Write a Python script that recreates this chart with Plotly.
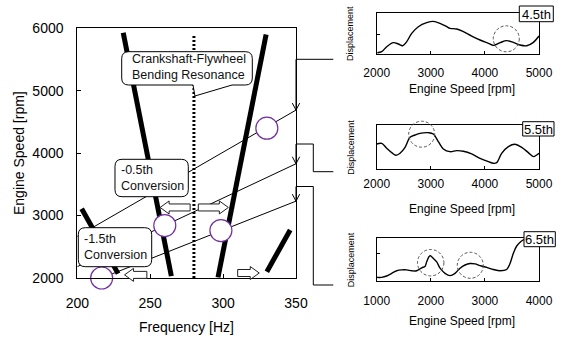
import plotly.graph_objects as go

W, H = 564, 339

# ---------------- main chart data ----------------
freq_range = [200, 350]
rpm_range = [2000, 6000]
x_ticks = [200, 250, 300, 350]
y_ticks = [2000, 3000, 4000, 5000, 6000]

# thick resonance branches (endpoints)
branch_a_hz = [231.5, 264.5]
branch_a_rpm = [5930, 2030]
branch_b_hz = [296.5, 329.5]
branch_b_rpm = [2010, 5900]
branch_c_hz = [203, 228]
branch_c_rpm = [3110, 2070]
branch_d_hz = [330, 346]
branch_d_rpm = [2100, 2770]

# stationary resonance (dotted)
resonance_hz = [280, 280]
resonance_rpm = [2000, 5900]

# engine order lines
order45_hz = [200, 350]
order45_rpm = [2667, 4690]
order55_hz = [200, 350]
order55_rpm = [2182, 3830]
order65_hz = [216.7, 350]
order65_rpm = [2000, 3231]

# circled peaks
peak_hz = [330, 260, 298.5, 216.7]
peak_rpm = [4400, 2840, 2760, 2000]

# block arrows (frequency shift)
shift_from_hz = [277.4, 283.0, 247.7, 310.0]
shift_to_hz = [256.8, 303.6, 232.4, 324.8]
shift_rpm = [3130, 3130, 2050, 2080]

# ---------------- small panels ----------------
p1_rpm = [2012, 2092, 2185, 2308, 2400, 2481, 2555, 2647, 2770, 2924, 3047, 3171, 3294,
          3355, 3479, 3602, 3756, 3910, 4064, 4157, 4280, 4403, 4526, 4649, 4773, 4896, 5000]
p1_disp = [0.03, 0.056, 0.177, 0.274, 0.242, 0.20, 0.298, 0.50, 0.661, 0.758, 0.79, 0.742,
           0.661, 0.621, 0.605, 0.54, 0.435, 0.339, 0.258, 0.21, 0.274, 0.323, 0.282, 0.218,
           0.20, 0.282, 0.435]

p2_rpm = [2000, 2092, 2185, 2277, 2357, 2431, 2524, 2616, 2708, 2800, 2954, 3047, 3140,
          3232, 3355, 3479, 3602, 3756, 3910, 4064, 4157, 4218, 4310, 4434, 4557, 4680,
          4803, 4896, 4957, 5000]
p2_disp = [0.571, 0.586, 0.474, 0.376, 0.316, 0.361, 0.496, 0.722, 0.774, 0.812, 0.827,
           0.797, 0.624, 0.459, 0.398, 0.421, 0.406, 0.346, 0.248, 0.173, 0.135, 0.15,
           0.361, 0.511, 0.564, 0.496, 0.376, 0.286, 0.323, 0.361]

p3_rpm = [1000, 1092, 1185, 1277, 1370, 1462, 1555, 1647, 1739, 1832, 1893, 1924, 1986,
          2047, 2109, 2171, 2263, 2355, 2448, 2540, 2633, 2725, 2818, 2910, 3033, 3156,
          3280, 3403, 3464, 3526, 3588, 3662, 3742, 4000]
p3_disp = [0.086, 0.086, 0.117, 0.18, 0.24, 0.26, 0.26, 0.24, 0.24, 0.31, 0.34, 0.45, 0.59,
           0.53, 0.45, 0.30, 0.18, 0.125, 0.18, 0.30, 0.375, 0.41, 0.40, 0.36, 0.32, 0.27,
           0.24, 0.27, 0.41, 0.65, 0.82, 0.92, 0.98, 1.0]

panel_labels = ["4.5th", "5.5th", "6.5th"]
p1_ticks = [2000, 3000, 4000, 5000]
p2_ticks = [2000, 3000, 4000, 5000]
p3_ticks = [1000, 2000, 3000, 4000]

FONT = "Liberation Sans, Arial, sans-serif"
BLACK = "#000000"
PURPLE = "#7030A0"

# ---------------- geometry helpers (pixels -> paper) ----------------
MX0, MX1, MY0, MY1 = 77.3, 296.0, 28.3, 278.0


def mx(hz):
    return MX0 + (hz - freq_range[0]) * (MX1 - MX0) / (freq_range[1] - freq_range[0])


def my(rpm):
    return MY1 - (rpm - rpm_range[0]) * (MY1 - MY0) / (rpm_range[1] - rpm_range[0])


def P(x, y):
    return x / W, 1 - y / H


def pt(x, y):
    a, b = P(x, y)
    return f"{a:.5f},{b:.5f}"


def xdom(a, b):
    return [a / W, b / W]


def ydom(top, bottom):
    return [1 - bottom / H, 1 - top / H]


def rounded_box(x0, y0, x1, y1, r, tail=None):
    s = f"M {pt(x0 + r, y0)} L {pt(x1 - r, y0)} Q {pt(x1, y0)} {pt(x1, y0 + r)} "
    s += f"L {pt(x1, y1 - r)} Q {pt(x1, y1)} {pt(x1 - r, y1)} "
    if tail:
        tr, tip, tl = tail
        s += f"L {pt(tr, y1)} L {pt(*tip)} L {pt(tl, y1)} "
    s += f"L {pt(x0 + r, y1)} Q {pt(x0, y1)} {pt(x0, y1 - r)} "
    s += f"L {pt(x0, y0 + r)} Q {pt(x0, y0)} {pt(x0 + r, y0)} Z"
    return s


def block_arrow(tail_x, tip_x, y, hl=9, hh=6.5, hs=3.5):
    d = 1 if tip_x > tail_x else -1
    neck = tip_x - d * hl
    pts = [(tail_x, y - hs), (neck, y - hs), (neck, y - hh), (tip_x, y),
           (neck, y + hh), (neck, y + hs), (tail_x, y + hs)]
    return "M " + " L ".join(pt(*p) for p in pts) + " Z"


fig = go.Figure()

# ---------------- main traces ----------------
for hz, rpm in [(order45_hz, order45_rpm), (order55_hz, order55_rpm), (order65_hz, order65_rpm)]:
    fig.add_trace(go.Scatter(x=hz, y=rpm, mode="lines", line=dict(color=BLACK, width=1),
                             showlegend=False, hoverinfo="skip", xaxis="x", yaxis="y"))
for hz, rpm in [(branch_a_hz, branch_a_rpm), (branch_b_hz, branch_b_rpm),
                (branch_c_hz, branch_c_rpm), (branch_d_hz, branch_d_rpm)]:
    fig.add_trace(go.Scatter(x=hz, y=rpm, mode="lines", line=dict(color=BLACK, width=5),
                             showlegend=False, hoverinfo="skip", xaxis="x", yaxis="y"))
fig.add_trace(go.Scatter(x=resonance_hz, y=resonance_rpm, mode="lines",
                         line=dict(color=BLACK, width=3, dash="2px,2px"),
                         showlegend=False, hoverinfo="skip", xaxis="x", yaxis="y"))
fig.add_trace(go.Scatter(x=peak_hz, y=peak_rpm, mode="markers", cliponaxis=False,
                         marker=dict(symbol="circle", size=22, color="white",
                                     line=dict(color=PURPLE, width=1.2)),
                         showlegend=False, hoverinfo="skip", xaxis="x", yaxis="y"))

# ---------------- panel traces ----------------
for i, (r, d) in enumerate([(p1_rpm, p1_disp), (p2_rpm, p2_disp), (p3_rpm, p3_disp)]):
    fig.add_trace(go.Scatter(x=r, y=d, mode="lines", line=dict(color=BLACK, width=1.4, shape="spline"),
                             showlegend=False, hoverinfo="skip",
                             xaxis=f"x{i + 2}", yaxis=f"y{i + 2}"))

# ---------------- axes ----------------
axis_common = dict(showline=True, linecolor=BLACK, linewidth=1, mirror=True, showgrid=False,
                   zeroline=False, ticks="inside", tickcolor=BLACK, automargin=False)

panels_px = [(12.7, 54.0), (125.0, 169.3), (238.3, 281.0)]
PX0, PX1 = 376.7, 539.0
ytick_pos = [0.48, 0.59, 0.65]
x_standoff = [8, 3, 9]

fig.update_layout(
    template="none",
    width=W, height=H, margin=dict(l=0, r=0, t=0, b=0, pad=0), autosize=False,
    showlegend=False,
    paper_bgcolor="white", plot_bgcolor="white",
    font=dict(family=FONT, color=BLACK),
    xaxis=dict(domain=xdom(MX0, MX1), range=freq_range, tickvals=x_ticks, ticklen=4,
               tickfont=dict(size=14), ticklabelstandoff=12, **axis_common),
    yaxis=dict(domain=ydom(MY0, MY1), range=rpm_range, tickvals=y_ticks, ticklen=4,
               tickfont=dict(size=14), ticklabelstandoff=10, **axis_common),
)
ranges = [[2000, 5000], [2000, 5000], [1000, 4000]]
ticks = [p1_ticks, p2_ticks, p3_ticks]
for i in range(3):
    top, bot = panels_px[i]
    fig.update_layout(**{
        f"xaxis{i + 2}": dict(domain=xdom(PX0, PX1), range=ranges[i], tickvals=ticks[i], ticklen=3,
                              tickfont=dict(size=12), ticklabelstandoff=x_standoff[i],
                              anchor=f"y{i + 2}", **axis_common),
        f"yaxis{i + 2}": dict(domain=ydom(top, bot), range=[0, 1], tickvals=[ytick_pos[i]],
                              showticklabels=False, ticklen=3, anchor=f"x{i + 2}", **axis_common),
    })

shapes = []
annotations = []

# dotted-line callout
shapes.append(dict(type="path", xref="paper", yref="paper",
                   path=rounded_box(121.7, 51.7, 252.3, 85.0, 7,
                                    tail=(232, (mx(280) + 1, 96), 193)),
                   fillcolor="white", line=dict(color=BLACK, width=1), layer="above"))
annotations.append(dict(text="Crankshaft-Flywheel<br>Bending Resonance", x=P(129.5, 0)[0],
                        y=P(0, 67.5)[1], xanchor="left", yanchor="middle", align="left"))
shapes.append(dict(type="path", xref="paper", yref="paper",
                   path=rounded_box(115.0, 159.3, 188.3, 196.7, 7),
                   fillcolor="white", line=dict(color=BLACK, width=1), layer="above"))
annotations.append(dict(text="-0.5th<br>Conversion", x=P(118.5, 0)[0], y=P(0, 178)[1],
                        xanchor="left", yanchor="middle", align="left"))
shapes.append(dict(type="path", xref="paper", yref="paper",
                   path=rounded_box(78.3, 227.7, 151.7, 266.7, 7),
                   fillcolor="white", line=dict(color=BLACK, width=1), layer="above"))
annotations.append(dict(text="-1.5th<br>Conversion", x=P(81.5, 0)[0], y=P(0, 247)[1],
                        xanchor="left", yanchor="middle", align="left"))
for a in annotations:
    a.update(xref="paper", yref="paper", showarrow=False, font=dict(size=12.5, color="#111"))

# block arrows
for f0, f1, r in zip(shift_from_hz, shift_to_hz, shift_rpm):
    shapes.append(dict(type="path", xref="paper", yref="paper",
                       path=block_arrow(mx(f0), mx(f1), my(r)),
                       fillcolor="white", line=dict(color="#222", width=1), layer="above"))


def seg(x0, y0, x1, y1, color=BLACK, width=1):
    a0, b0 = P(x0, y0)
    a1, b1 = P(x1, y1)
    return dict(type="line", xref="paper", yref="paper", x0=a0, y0=b0, x1=a1, y1=b1,
                line=dict(color=color, width=width), layer="above")


# connectors to panels
shapes += [seg(296, 59.3, 333.3, 59.3), seg(296, 59.3, 296, my(order45_rpm[1])),
           seg(296, 144, 313.3, 144), seg(313.3, 144, 313.3, 171.7), seg(313.3, 171.7, 333.3, 171.7),
           seg(296, 144, 296, my(order55_rpm[1])),
           seg(296, 186.5, 313.3, 186.5), seg(313.3, 186.5, 313.3, 285), seg(313.3, 285, 333.3, 285),
           seg(296, 186.5, 296, my(order65_rpm[1]))]
for r in [order45_rpm[1], order55_rpm[1], order65_rpm[1]]:
    yy = my(r)
    shapes.append(dict(type="path", xref="paper", yref="paper",
                       path=f"M {pt(292.3, yy - 7)} L {pt(296, yy)} L {pt(299.7, yy - 7)}",
                       line=dict(color=BLACK, width=1), layer="above"))

# dashed circles in panels
for cx, cy, rr in [(506.3, 38.8, 13), (421.7, 134.2, 13), (430.7, 262.7, 13.2), (470.3, 265.3, 13)]:
    a0, b0 = P(cx - rr, cy + rr)
    a1, b1 = P(cx + rr, cy - rr)
    shapes.append(dict(type="circle", xref="paper", yref="paper", x0=a0, y0=b0, x1=a1, y1=b1,
                       line=dict(color="#555", width=1, dash="3px,2px"), layer="above"))

# panel label boxes
label_boxes = [(519.3, 6.0, 553.3, 21.7), (522.7, 121.7, 554.0, 136.0), (524.0, 231.7, 555.3, 246.7)]
for (x0, y0, x1, y1), lab in zip(label_boxes, panel_labels):
    a0, b0 = P(x0, y1)
    a1, b1 = P(x1, y0)
    shapes.append(dict(type="rect", xref="paper", yref="paper", x0=a0, y0=b0, x1=a1, y1=b1,
                       fillcolor="white", line=dict(color=BLACK, width=1), layer="above"))
    annotations.append(dict(text=lab, xref="paper", yref="paper", x=P((x0 + x1) / 2, 0)[0],
                            y=P(0, (y0 + y1) / 2 + 0.5)[1], showarrow=False,
                            xanchor="center", yanchor="middle", font=dict(size=13, color=BLACK)))

# axis titles
annotations.append(dict(text="Frequency [Hz]", xref="paper", yref="paper",
                        x=P(186.7, 0)[0], y=P(0, 326.5)[1], showarrow=False,
                        xanchor="center", yanchor="middle", font=dict(size=14, color=BLACK)))
annotations.append(dict(text="Engine Speed [rpm]", xref="paper", yref="paper",
                        x=P(19, 0)[0], y=P(0, 153)[1], showarrow=False, textangle=-90,
                        xanchor="center", yanchor="middle", font=dict(size=14, color=BLACK)))
for ty in [89.0, 209.0, 320.5]:
    annotations.append(dict(text="Engine Speed [rpm]", xref="paper", yref="paper",
                            x=P(462, 0)[0], y=P(0, ty)[1], showarrow=False,
                            xanchor="center", yanchor="middle", font=dict(size=12, color=BLACK)))
for (top, bot) in panels_px:
    annotations.append(dict(text="Displacement", xref="paper", yref="paper",
                            x=P(350.7, 0)[0], y=P(0, (top + bot) / 2)[1], showarrow=False,
                            textangle=-90, xanchor="center", yanchor="middle",
                            font=dict(size=9, color=BLACK)))

fig.update_layout(shapes=shapes, annotations=annotations)
fig.write_html("out.html")
